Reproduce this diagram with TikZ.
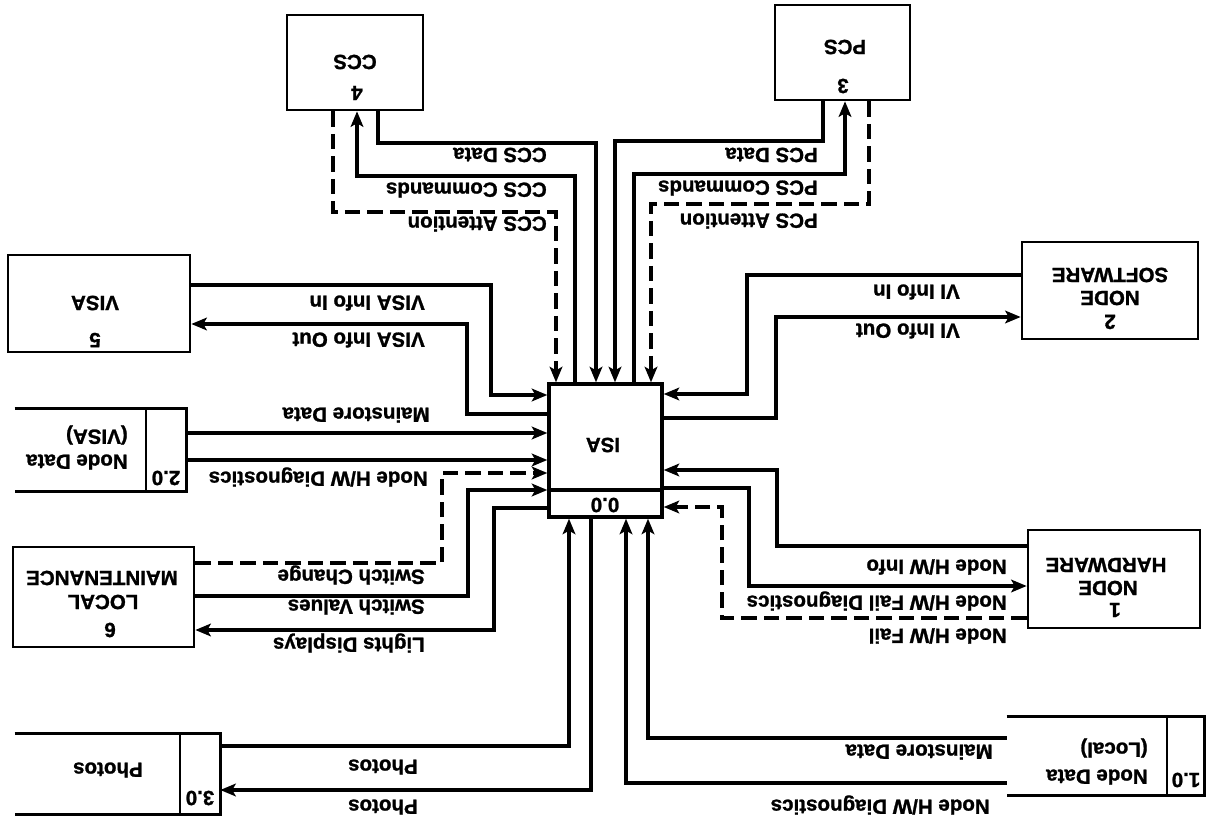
\documentclass[tikz,border=0pt]{standalone}
\usepackage{fontspec}
\setmainfont{Liberation Sans}[FakeBold=1.2]
\usetikzlibrary{arrows.meta,fit}
\begin{document}
\begin{tikzpicture}[x=0.025cm,y=-0.025cm,
  box/.style={draw,line width=1.9pt,inner sep=0pt},
  boxline/.style={line width=1.9pt},
  flow/.style={line width=2.3pt,-{Stealth[length=11pt,width=9pt,inset=2.5pt]}},
  flowd/.style={flow,dash pattern=on 11pt off 5pt},
  txt/.style={rotate=180,inner sep=0pt,font=\fontsize{14.6}{16}\selectfont\bfseries},
  lbl/.style={txt,anchor=west}]
\useasboundingbox (0,0) rectangle (1208,819);
% process boxes
\node[box,fit={(287,15)(423,110)}] (ccs) {};
\node[box,fit={(775,5)(910,100)}] (pcs) {};
\node[box,fit={(1022,242)(1198,339)}] (ns) {};
\node[box,fit={(1028,530)(1200,628)}] (hw) {};
\node[box,fit={(8,255)(190,352)}] (visa) {};
\node[box,fit={(13,547)(194,647)}] (lm) {};
\node[box,line width=2.4pt,fit={(549,384)(662,517)}] (isa) {};
\draw[line width=2.4pt] (isa.west |- 0,490) -- (isa.east |- 0,490);
% data stores
\node[inner sep=0pt,fit={(15,409)(186,491)}] (ds2) {};
\draw[boxline] (ds2.north west) -- (ds2.north east) -- (ds2.south east) -- (ds2.south west);
\draw[boxline] (146,0 |- ds2.north) -- (146,0 |- ds2.south);
\node[inner sep=0pt,fit={(15,734)(220,814)}] (ds3) {};
\draw[boxline] (ds3.north west) -- (ds3.north east) -- (ds3.south east) -- (ds3.south west);
\draw[boxline] (180,0 |- ds3.north) -- (180,0 |- ds3.south);
\node[inner sep=0pt,fit={(1007,717)(1204,795)}] (ds1) {};
\draw[boxline] (ds1.north west) -- (ds1.north east) -- (ds1.south east) -- (ds1.south west);
\draw[boxline] (1167,0 |- ds1.north) -- (1167,0 |- ds1.south);
% box texts
\node[txt] (tccs) at (355,62) {CCS};
\node[txt] (nccs) at (357,93) {4};
\node[txt] (tpcs) at (845,47) {PCS};
\node[txt] (npcs) at (843,86) {3};
\node[txt] (tns1) at (1110,275) {SOFTWARE};
\node[txt] (tns2) at (1110,298) {NODE};
\node[txt] (nns) at (1110,322) {2};
\node[txt] (thw1) at (1106,565) {HARDWARE};
\node[txt] (thw2) at (1108,588) {NODE};
\node[txt] (nhw) at (1115,610) {1};
\node[txt] (tvisa) at (95,303) {VISA};
\node[txt] (nvisa) at (95,340) {5};
\node[txt] (tlm1) at (102,578) {MAINTENANCE};
\node[txt] (tlm2) at (103,602) {LOCAL};
\node[txt] (nlm) at (110,630) {6};
\node[txt] (tisa) at (603,445) {ISA};
\node[txt] (nisa) at (605,505) {0.0};
\node[txt] (nds2) at (166,478) {2.0};
\node[lbl] (tds2a) at (128,462) {Node Data};
\node[lbl] (tds2b) at (128,435) {(VISA)};
\node[txt] (nds3) at (200,798) {3.0};
\node[lbl] (tds3) at (143,770) {Photos};
\node[txt] (nds1) at (1186,780) {1.0};
\node[lbl] (tds1a) at (1148,777) {Node Data};
\node[lbl] (tds1b) at (1148,748) {(Local)};
% top connectors
\draw[flow] (378,0 |- ccs.south) |- (596,143) -- (596,0 |- isa.north);
\draw[flow] (575,0 |- isa.north) |- (357,176) -- (357,0 |- ccs.south);
\draw[flowd] (333,0 |- ccs.south) |- (556,212) -- (556,0 |- isa.north);
\draw[flow] (823,0 |- pcs.south) |- (615,141) -- (615,0 |- isa.north);
\draw[flow] (634,0 |- isa.north) |- (845,174) -- (845,0 |- pcs.south);
\draw[flowd] (869,0 |- pcs.south) |- (651,204) -- (651,0 |- isa.north);
% left connectors
\draw[flow] (visa.east |- 0,285) -| (491,395) -- (isa.west |- 0,395);
\draw[flow] (isa.west |- 0,414) -| (467,324) -- (visa.east |- 0,324);
\draw[flow] (ds2.east |- 0,433) -- (isa.west |- 0,433);
\draw[flow] (ds2.east |- 0,460) -- (isa.west |- 0,460);
\draw[flowd] (lm.east |- 0,563) -| (442,473) -- (isa.west |- 0,473);
\draw[flow] (lm.east |- 0,596) -| (468,490) -- (isa.west |- 0,490);
\draw[flow] (isa.west |- 0,508) -| (494,630) -- (lm.east |- 0,630);
% bottom connectors
\draw[flow] (ds3.east |- 0,746) -| (569,0 |- isa.south);
\draw[flow] (591,0 |- isa.south) |- (ds3.east |- 0,790);
\draw[flow] (ds1.west |- 0,783) -| (626,0 |- isa.south);
\draw[flow] (ds1.west |- 0,738) -| (648,0 |- isa.south);
% right connectors
\draw[flow] (ns.west |- 0,275) -| (747,394) -- (isa.east |- 0,394);
\draw[flow] (isa.east |- 0,418) -| (776,317) -- (ns.west |- 0,317);
\draw[flow] (hw.west |- 0,546) -| (777,470) -- (isa.east |- 0,470);
\draw[flow] (isa.east |- 0,488) -| (749,586) -- (hw.west |- 0,586);
\draw[flowd] (hw.west |- 0,618) -| (722,507) -- (isa.east |- 0,507);
% connector labels
\node[lbl] (l1) at (547,155) {CCS Data};
\node[lbl] (l2) at (547,190) {CCS Commands};
\node[lbl] (l3) at (547,224) {CCS Attention};
\node[lbl] (l4) at (818,155) {PCS Data};
\node[lbl] (l5) at (818,188) {PCS Commands};
\node[lbl] (l6) at (818,221) {PCS Attention};
\node[lbl] (l7) at (425,303) {VISA Info In};
\node[lbl] (l8) at (425,340) {VISA Info Out};
\node[lbl] (l9) at (430,415) {Mainstore Data};
\node[lbl] (l10) at (428,477) {Node H/W Diagnostics};
\node[lbl] (l11) at (425,575) {Switch Change};
\node[lbl] (l12) at (425,607) {Switch Values};
\node[lbl] (l13) at (425,643) {Lights Displays};
\node[lbl] (l14) at (418,767) {Photos};
\node[lbl] (l15) at (418,807) {Photos};
\node[lbl] (l16) at (960,292) {VI Info In};
\node[lbl] (l17) at (960,331) {VI Info Out};
\node[lbl] (l18) at (1007,567) {Node H/W Info};
\node[lbl] (l19) at (1007,601) {Node H/W Fail Diagnostics};
\node[lbl] (l20) at (1007,636) {Node H/W Fail};
\node[lbl] (l21) at (993,752) {Mainstore Data};
\node[lbl] (l22) at (990,805) {Node H/W Diagnostics};
\end{tikzpicture}
\end{document}
